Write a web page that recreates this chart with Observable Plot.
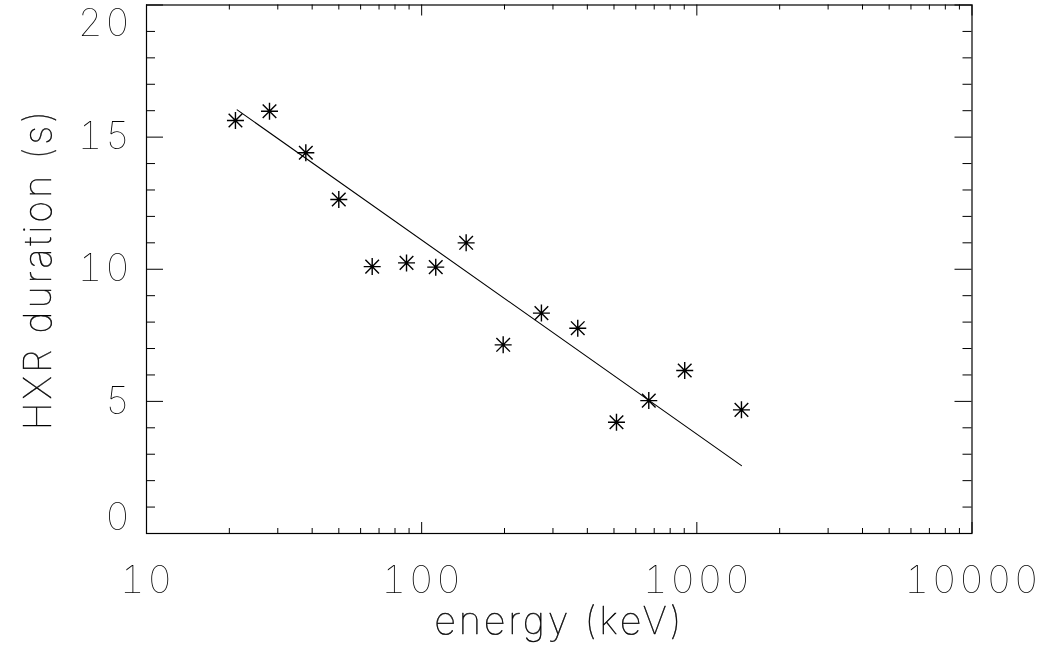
<!DOCTYPE html>
<html>
<head>
<meta charset="utf-8">
<script src="https://cdn.jsdelivr.net/npm/d3@7"></script>
<script src="https://cdn.jsdelivr.net/npm/@observablehq/plot@0.6"></script>
<style>
  html, body { margin: 0; padding: 0; background: #fff; }
  #chart svg { display: block; filter: grayscale(1); }
</style>
</head>
<body>
<div id="chart"></div>
<script>
// Data
const energy   = [21.05, 27.99, 37.93, 49.98, 66.1, 88.1, 112.5, 145.1, 197.8, 272.4, 369.2, 510.5, 668.9, 903.6, 1452.6];
const duration = [15.63, 15.98, 14.41, 12.64, 10.10, 10.24, 10.08, 11.00, 7.14, 8.34, 7.77, 4.21, 5.03, 6.17, 4.68];
// Fitted line end points (as drawn)
const fitEnergy   = [21.36, 1452.6];
const fitDuration = [16.03, 2.57];
// Tick labels / positions
const xMajor = [10, 100, 1000, 10000];
const xMinor = [20,30,40,50,60,70,80,90,200,300,400,500,600,700,800,900,2000,3000,4000,5000,6000,7000,8000,9000];
const yMajor = [0, 5, 10, 15, 20];
const yMinor = [1,2,3,4,6,7,8,9,11,12,13,14,16,17,18,19];
const xTitle = "energy (keV)";
const yTitle = "HXR duration (s)";

const points = energy.map((e, i) => ({energy: e, duration: duration[i]}));
const fit = fitEnergy.map((e, i) => ({energy: e, duration: fitDuration[i]}));

const W = 1039, H = 660;
const mL = 146, mR = 67.5, mT = 4.5, mB = 127;
const ph = H - mT - mB, pw = W - mL - mR;

const FONT = "Inter";
const FS = 38;

// IDL-style asterisk (8 arms)
const star = {
  draw(ctx, size) {
    const r = Math.sqrt(size / Math.PI);
    const d = r * 0.8;
    ctx.moveTo(-r, 0); ctx.lineTo(r, 0);
    ctx.moveTo(0, -r); ctx.lineTo(0, r);
    ctx.moveTo(-d, -d); ctx.lineTo(d, d);
    ctx.moveTo(-d, d); ctx.lineTo(d, -d);
  }
};

const txt = {fontFamily: FONT, fontSize: FS, fontWeight: 100, fill: "#000", stroke: "#000", strokeWidth: 0.4};

const chart = Plot.plot({
  width: W, height: H,
  marginLeft: mL, marginRight: mR, marginTop: mT, marginBottom: mB,
  style: {fontFamily: FONT, background: "#fff", letterSpacing: "2.8px"},
  x: {type: "log", domain: [10, 10000]},
  y: {domain: [0, 20]},
  marks: [
    // inward ticks, bottom and top
    Plot.tickX(xMajor, {x: d => d, insetTop: ph - 11, stroke: "#000"}),
    Plot.tickX(xMinor, {x: d => d, insetTop: ph - 5, stroke: "#000"}),
    Plot.tickX(xMajor, {x: d => d, insetBottom: ph - 11, stroke: "#000"}),
    Plot.tickX(xMinor, {x: d => d, insetBottom: ph - 5, stroke: "#000"}),
    // inward ticks, left and right
    Plot.tickY(yMajor, {y: d => d, insetRight: pw - 17, stroke: "#000"}),
    Plot.tickY(yMinor, {y: d => d, insetRight: pw - 9, stroke: "#000"}),
    Plot.tickY(yMajor, {y: d => d, insetLeft: pw - 17, stroke: "#000"}),
    Plot.tickY(yMinor, {y: d => d, insetLeft: pw - 9, stroke: "#000"}),
    Plot.frame({stroke: "#000", strokeWidth: 1.2}),
    // axes labels
    Plot.axisX({ticks: xMajor, tickSize: 0, tickPadding: 33, dx: 1, tickFormat: d => String(d), label: null, ...txt}),
    Plot.axisY({ticks: [5, 10, 15], tickSize: 0, tickPadding: 14, tickFormat: d => String(d), label: null, ...txt}),
    Plot.axisY({ticks: [0], tickSize: 0, tickPadding: 14, dy: -16, tickFormat: d => String(d), label: null, ...txt}),
    Plot.axisY({ticks: [20], tickSize: 0, tickPadding: 14, dy: 19, tickFormat: d => String(d), label: null, ...txt}),
    Plot.text([xTitle], {text: d => d, frameAnchor: "bottom", dy: 88, lineAnchor: "middle", textAnchor: "middle", ...txt}),
    Plot.text([yTitle], {text: d => d, frameAnchor: "left", dx: -108, rotate: -90, lineAnchor: "middle", textAnchor: "middle", ...txt}),
    // data
    Plot.line(fit, {x: "energy", y: "duration", stroke: "#000", strokeWidth: 1.1}),
    Plot.dot(points, {x: "energy", y: "duration", r: 8.5, symbol: star, stroke: "#000", strokeWidth: 1.4, fill: "none"})
  ]
});
document.getElementById("chart").appendChild(chart);
</script>
</body>
</html>
